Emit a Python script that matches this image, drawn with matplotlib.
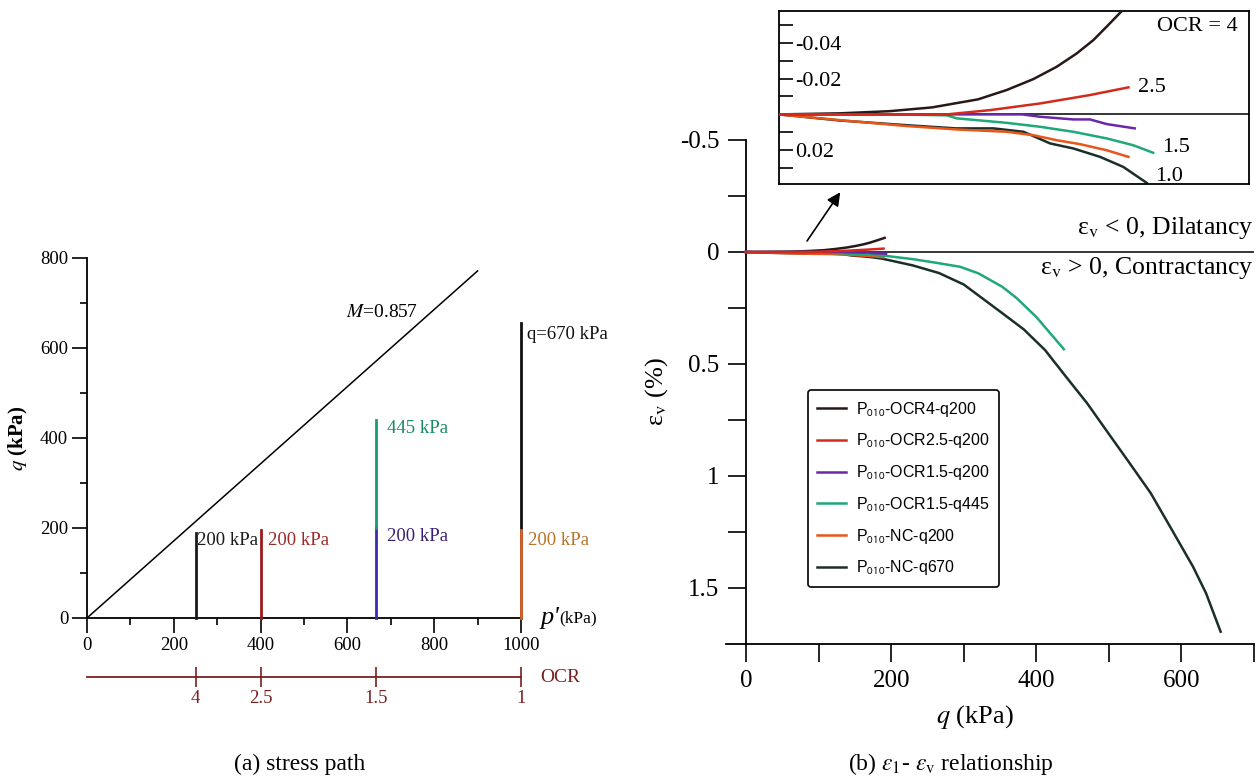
import numpy as np
import matplotlib
matplotlib.use('Agg')
import matplotlib.pyplot as plt

plt.rcParams['font.family'] = ['Liberation Serif', 'DejaVu Serif']
plt.rcParams['mathtext.fontset'] = 'stix'

# ---- (a) stress path data ----
M_slope = 0.857
M_p_end = 900
path_p = [250, 400, 667, 667, 1000, 1000]
path_q_start = [0, 0, 0, 200, 0, 0]
path_q_end = [190, 195, 200, 440, 655, 195]
label_text = ['200 kPa', '200 kPa', '200 kPa', '445 kPa', 'q=670 kPa', '200 kPa']
label_p = [254, 418, 692, 692, 1014, 1016]
label_q = [173, 173, 182, 421, 629, 173]
ocr_p = [250, 400, 667, 1000]
ocr_labels = ['4', '2.5', '1.5', '1']

# ---- (b) volumetric strain vs q ----
q_ocr4 = [0, 33, 60, 83, 108, 123.5, 138, 150.7, 161.5, 170.6, 177.8, 186, 191]
ev_ocr4 = [0, -0.0006, -0.0018, -0.0039, -0.0084, -0.0136, -0.0197, -0.0266,
           -0.034, -0.0415, -0.049, -0.0577, -0.063]
q_ocr25 = [0, 40, 91, 114.6, 141.6, 168.7, 189.6]
ev_ocr25 = [0, 0, 0, -0.0024, -0.0061, -0.0108, -0.0151]
q_ocr15 = [0, 60, 100, 132, 141.6, 159.6, 168.7, 177.8, 193]
ev_ocr15 = [0, 0, 0, 0, 0.0013, 0.0028, 0.0028, 0.0054, 0.0078]
q_ocr15b = [0, 60, 91, 96.4, 123.5, 141.6, 159.7, 177.8, 192.2, 203, 230, 260,
            295, 320, 353, 373, 400, 438]
ev_ocr15b = [0, 0, 0.0005, 0.0022, 0.0047, 0.0069, 0.0097, 0.0134, 0.0172, 0.0214,
             0.032, 0.047, 0.066, 0.095, 0.155, 0.206, 0.29, 0.434]
q_nc200 = [0, 33, 69.3, 96.4, 123.5, 138, 150.7, 163.3, 177.8, 189.6]
ev_nc200 = [0, 0.0032, 0.0065, 0.0084, 0.0097, 0.0116, 0.0144, 0.0166, 0.02, 0.0237]
q_nc670 = [0, 33, 69, 96, 116.4, 132.6, 136, 147.1, 159.7, 174.2, 186.8, 199.5,
           230, 266, 300, 327, 353.5, 382.6, 412, 441, 470, 499.5, 528.7, 557.8,
           587, 616, 634, 654]
ev_nc670 = [0, 0.0034, 0.006, 0.0078, 0.0078, 0.0097, 0.0112, 0.0162, 0.019, 0.0237,
            0.0293, 0.0382, 0.06, 0.094, 0.145, 0.21, 0.274, 0.345, 0.4375, 0.557,
            0.675, 0.81, 0.943, 1.077, 1.241, 1.405, 1.524, 1.695]
series_names = [r'P$_{\mathsf{010}}$-OCR4-q200', r'P$_{\mathsf{010}}$-OCR2.5-q200',
                r'P$_{\mathsf{010}}$-OCR1.5-q200', r'P$_{\mathsf{010}}$-OCR1.5-q445',
                r'P$_{\mathsf{010}}$-NC-q200', r'P$_{\mathsf{010}}$-NC-q670']
inset_names = ['OCR = 4', '2.5', '1.5', '1.0']
inset_name_q = [205, 195, 208, 204]
inset_name_ev = [-0.0493, -0.0151, 0.0187, 0.0345]

path_colors = ['#1a1a1a', '#9b1b1b', '#3a2ab0', '#1a9a70', '#111111', '#d8602a']
label_colors = ['#1a1a1a', '#9b2a2a', '#3a2070', '#1a8a66', '#111111', '#b8742a']
series_colors = ['#2a1818', '#d42a1e', '#6a28a8', '#20a878', '#e8561a', '#1a2e2a']
ocr_red = '#7a1f1f'

W, H = 1260, 782
fig = plt.figure(figsize=(12.6, 7.82), dpi=100)

# ================= (a) =================
ax1 = fig.add_axes([87 / W, 1 - 618 / H, 434 / W, 360 / H])
for s in ['top', 'right']:
    ax1.spines[s].set_visible(False)
for s in ['left', 'bottom']:
    ax1.spines[s].set_linewidth(1.3)
ax1.set_xlim(0, 1000)
ax1.set_ylim(0, 800)

ax1.plot([0, M_p_end], [0, M_slope * M_p_end], color='k', lw=1.1)
ax1.text(762, 679, r'$M$=0.857', fontsize=14, ha='right', va='center')

for i in range(len(path_p)):
    ax1.plot([path_p[i], path_p[i]], [path_q_start[i], path_q_end[i]],
             color=path_colors[i], lw=2.0, clip_on=False, zorder=3)
    ax1.text(label_p[i], label_q[i], label_text[i], color=label_colors[i],
             fontsize=13.5, ha='left', va='center')

ax1.set_xticks(np.arange(0, 1001, 200))
ax1.set_xticks(np.arange(100, 1000, 200), minor=True)
ax1.set_yticks(np.arange(0, 801, 200))
ax1.set_yticks(np.arange(100, 800, 200), minor=True)
ax1.tick_params(which='major', direction='out', length=10.5, width=1.2,
                labelsize=13.5, pad=3)
ax1.tick_params(which='minor', direction='out', length=5, width=1.2)
ax1.set_ylabel(r'$q$ (kPa)', fontsize=15, fontweight='bold')
ax1.yaxis.set_label_coords(-0.131, 0.5)

ax1.text(1045, 0, "p'", fontsize=19, style='italic', ha='left', va='center')
ax1.text(1087, 0, "(kPa)", fontsize=12.5, ha='left', va='center')

# OCR scale below the p' axis
ocr_ax = ax1.secondary_xaxis(location=-0.164)
ocr_ax.set_xticks(ocr_p, ocr_labels)
ocr_ax.spines['bottom'].set_color(ocr_red)
ocr_ax.spines['bottom'].set_linewidth(1.3)
ocr_ax.tick_params(direction='inout', length=14, width=1.2, color=ocr_red,
                   labelcolor=ocr_red, labelsize=13.5, pad=2)
ax1.text(1045, -0.164, 'OCR', transform=ax1.get_xaxis_transform(), fontsize=14,
         color=ocr_red, ha='left', va='center', clip_on=False)

# ================= (b) =================
ax2 = fig.add_axes([726.4 / W, 1 - 644 / H, 527.6 / W, 504 / H])
for s in ['top', 'right']:
    ax2.spines[s].set_visible(False)
ax2.spines['left'].set_position(('data', 0))
for s in ['left', 'bottom']:
    ax2.spines[s].set_linewidth(1.3)
ax2.set_xlim(-27, 700)
ax2.set_ylim(1.75, -0.5)

all_q = [q_ocr4, q_ocr25, q_ocr15, q_ocr15b, q_nc200, q_nc670]
all_ev = [ev_ocr4, ev_ocr25, ev_ocr15, ev_ocr15b, ev_nc200, ev_nc670]
zorders = [4, 6, 5, 4, 3, 2]
for q, ev, c, name, z in zip(all_q, all_ev, series_colors, series_names, zorders):
    ax2.plot(q, ev, color=c, lw=1.8, label=name, zorder=z)

ax2.plot([0, 700], [0, 0], color='k', lw=1.1, zorder=1)
ax2.text(700, -0.107, r'ε$_{\rm v}$ < 0, Dilatancy', fontsize=18.5, ha='right', va='center')
ax2.text(700, 0.071, r'ε$_{\rm v}$ > 0, Contractancy', fontsize=18.5, ha='right', va='center')
ax2.annotate('', xy=(132, -0.277), xytext=(82, -0.039),
             arrowprops=dict(arrowstyle='-|>', color='k', lw=1.2, mutation_scale=20))

ax2.set_xticks([0, 200, 400, 600])
ax2.set_xticks([100, 300, 500, 700], minor=True)
ax2.set_yticks([-0.5, 0, 0.5, 1, 1.5], ['-0.5', '0', '0.5', '1', '1.5'])
ax2.set_yticks([-0.25, 0.25, 0.75, 1.25], minor=True)
ax2.tick_params(which='both', direction='out', length=13, width=1.2)
ax2.tick_params(which='major', labelsize=18, pad=6)

ax2.set_xlabel(r'$q$ (kPa)', fontsize=19)
ax2.xaxis.set_label_coords(0.471, -0.117)
ax2.set_ylabel(r'ε$_{\rm v}$ (%)', fontsize=19)
ax2.yaxis.set_label_coords(-0.107, 0.5)

leg = ax2.legend(loc='upper left', bbox_to_anchor=(0.154, 0.504), borderaxespad=0,
                 fancybox=True, edgecolor='k', framealpha=1, handlelength=1.8,
                 handletextpad=0.6, labelspacing=0.8, borderpad=0.6,
                 prop={'family': ['Liberation Sans', 'DejaVu Sans'], 'size': 11.5})
leg.get_frame().set_linewidth(1.2)

# inset zoom of the early part
ins = fig.add_axes([779 / W, 1 - 184.3 / H, 470 / W, 173.3 / H])
for s in ins.spines.values():
    s.set_linewidth(1.3)
ins.set_xlim(0, 255)
ins.set_ylim(0.039, -0.0577)
ins.axhline(0, color='k', lw=1.1)
for q, ev, c, z in zip(all_q, all_ev, series_colors, zorders):
    q = np.asarray(q)
    ev = np.asarray(ev)
    keep = q <= 205
    ins.plot(q[keep], ev[keep], color=c, lw=1.8, zorder=z)
for t, tq, tev in zip(inset_names, inset_name_q, inset_name_ev):
    ins.text(tq, tev, t, fontsize=16, ha='left', va='center')
ins.set_xticks([])
ins.set_yticks([-0.05, -0.04, -0.03, -0.02, -0.01, 0.01, 0.02, 0.03],
               ['', '-0.04', '', '-0.02', '', '', '0.02', ''])
ins.tick_params(axis='y', direction='in', length=10, width=1.2, labelsize=16, pad=-11.5)
for lbl in ins.get_yticklabels():
    lbl.set_horizontalalignment('left')

# captions
fig.text(300 / W, 1 - 764 / H, '(a) stress path', fontsize=17, ha='center', va='center')
fig.text(951 / W, 1 - 764 / H, r'(b) $\varepsilon_1$- $\varepsilon_{\rm v}$ relationship',
         fontsize=17, ha='center', va='center')

fig.savefig('out.png', dpi=100)
